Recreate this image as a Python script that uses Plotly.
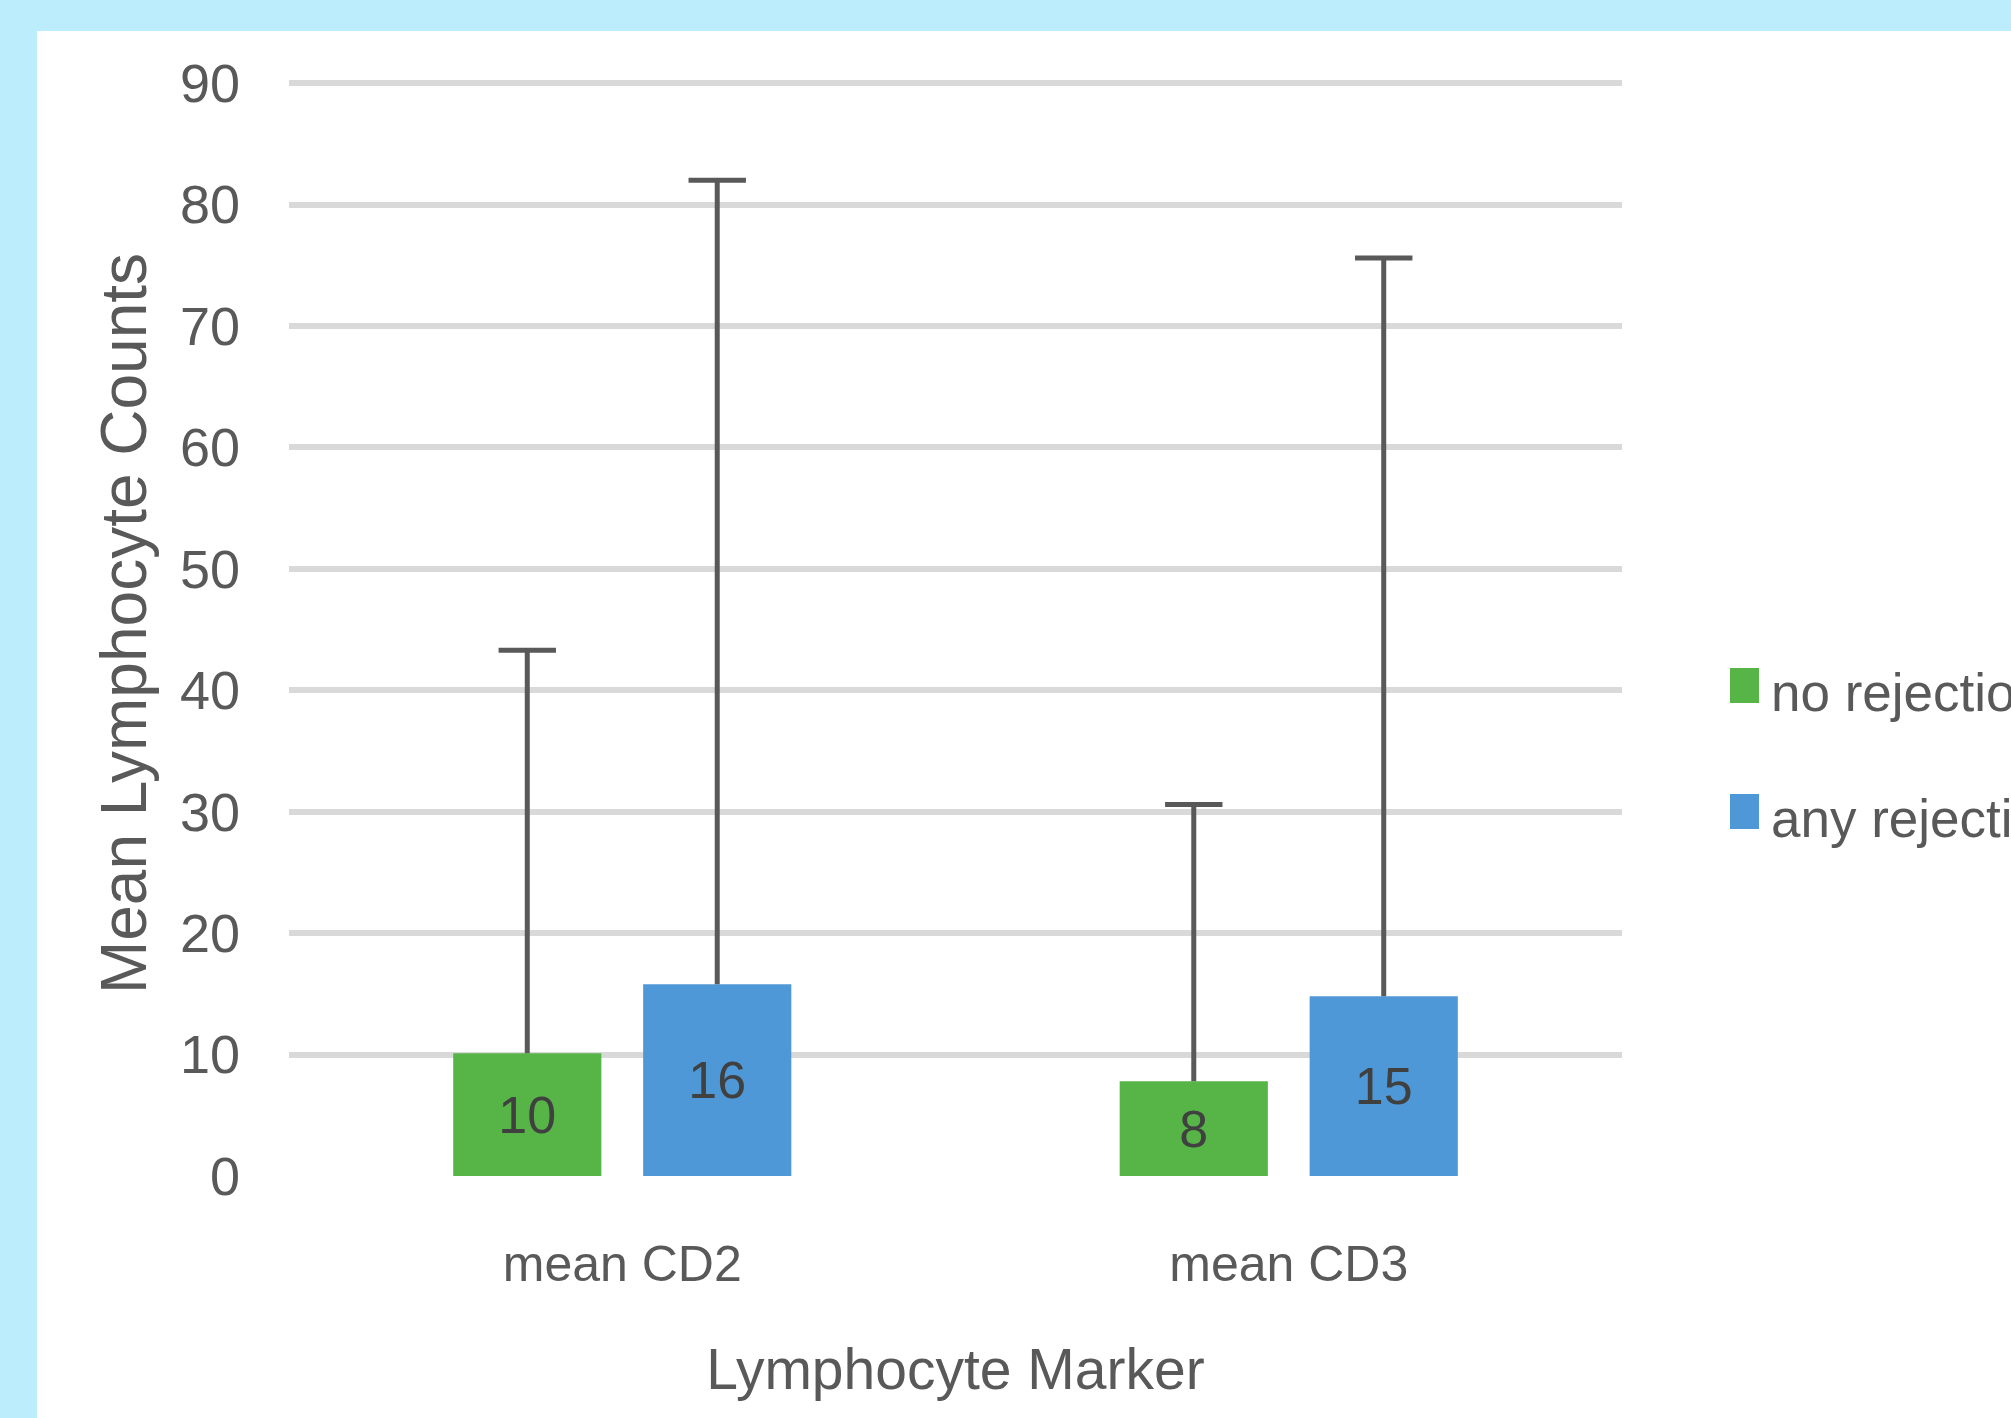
import plotly.graph_objects as go

# ---- data ----
categories = ["mean CD2", "mean CD3"]
series_names = ["no rejection", "any rejection"]
no_rejection = [10.1, 7.8]
any_rejection = [15.8, 14.8]
no_rejection_err = [33.2, 22.8]
any_rejection_err = [66.2, 60.8]
y_ticks = [0, 10, 20, 30, 40, 50, 60, 70, 80, 90]

colors = ["#56B546", "#4F98D8"]
FONT = "Liberation Sans, Arial, sans-serif"
TXT = "#595959"

W, H = 2011, 1418
Y_MAX = 91
L, R, T, B = 289, 389, 71, 242
pw, ph = W - L - R, H - T - B


def px_x(p):
    return (p - L) / pw


def px_y(p):
    return (H - B - p) / ph


fig = go.Figure()

values = [no_rejection, any_rejection]
errs = [no_rejection_err, any_rejection_err]

for name, vals, col in zip(series_names, values, colors):
    fig.add_trace(go.Bar(
        x=categories, y=vals, name=name, marker=dict(color=col, line=dict(width=0)),
        texttemplate="%{y:.0f}", textposition="inside", insidetextanchor="middle",
        textangle=0, textfont=dict(family=FONT, size=52, color="#404040"),
        showlegend=False, hoverinfo="skip",
    ))

# error bars (upper only): cap marker at top, stem down to bar top
for name, vals, err in zip(series_names, values, errs):
    tops = [v + e for v, e in zip(vals, err)]
    fig.add_trace(go.Scatter(
        x=categories, y=tops, mode="markers", name=name + " error",
        marker=dict(symbol="line-ew", size=41, color="#595959",
                    line=dict(color="#595959", width=5)),
        error_y=dict(type="data", symmetric=False, array=[0] * len(err),
                     arrayminus=err, width=0, thickness=5, color="#595959"),
        showlegend=False, hoverinfo="skip", cliponaxis=False,
    ))

shapes = [
    # white panel on light-blue background
    dict(type="rect", xref="paper", yref="paper", layer="below",
         x0=px_x(37), x1=px_x(W + 10), y0=px_y(H + 10), y1=px_y(31),
         fillcolor="white", line=dict(width=0)),
]
annotations = []
# custom legend
leg_y = [686, 812]
for name, col, cy in zip(series_names, colors, leg_y):
    shapes.append(dict(type="rect", xref="paper", yref="paper",
                       x0=px_x(1730), x1=px_x(1759), y0=px_y(cy + 17), y1=px_y(cy - 18),
                       fillcolor=col, line=dict(width=0)))
    annotations.append(dict(xref="paper", yref="paper", x=px_x(1769), y=px_y(cy + 6),
                            xanchor="left", yanchor="middle", showarrow=False,
                            text=name, font=dict(family=FONT, size=53, color=TXT)))

fig.update_layout(
    width=W, height=H,
    margin=dict(l=L, r=R, t=T, b=B, autoexpand=False),
    paper_bgcolor="#BBEDFC", plot_bgcolor="white",
    barmode="group", bargap=0.43, bargroupgap=0.22,
    scattermode="group", scattergap=0.43,
    showlegend=False,
    shapes=shapes, annotations=annotations,
    xaxis=dict(
        showgrid=False, showline=False, zeroline=False, ticks="",
        tickfont=dict(family=FONT, size=50, color=TXT), ticklabelstandoff=54,
        title=dict(text="Lymphocyte Marker", font=dict(family=FONT, size=57, color=TXT),
                   standoff=58),
    ),
    yaxis=dict(
        range=[0, Y_MAX], tickvals=y_ticks, ticktext=[str(v) for v in y_ticks],
        showgrid=True, gridcolor="#D9D9D9", gridwidth=6,
        showline=False, zeroline=False, ticks="",
        tickfont=dict(family=FONT, size=54, color=TXT), ticklabelstandoff=48,
        title=dict(text="Mean Lymphocyte Counts", font=dict(family=FONT, size=64, color=TXT),
                   standoff=12),
    ),
)

fig.write_html("out.html", config={"displayModeBar": False},
               post_script="document.body.style.margin='0';document.body.style.overflow='hidden';")
